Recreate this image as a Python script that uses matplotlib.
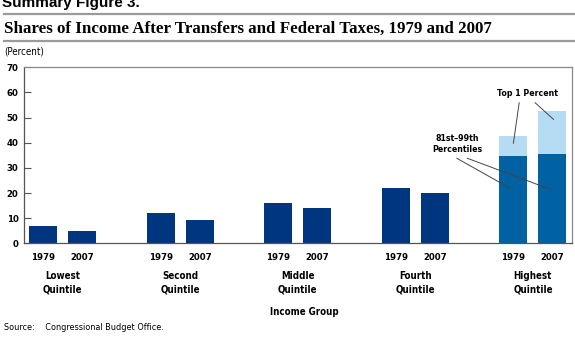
import matplotlib
matplotlib.use("Agg")
import matplotlib.pyplot as plt
from matplotlib.transforms import blended_transform_factory

groups = ["Lowest\nQuintile", "Second\nQuintile", "Middle\nQuintile", "Fourth\nQuintile", "Highest\nQuintile"]
years = ["1979", "2007"]
share_1979 = [7.0, 12.0, 16.0, 22.0, 42.7]
share_2007 = [5.0, 9.2, 14.0, 20.0, 52.6]
p81_99 = [34.7, 35.4]     # 81st-99th percentiles, highest quintile (1979, 2007)
top1 = [8.0, 17.2]        # top 1 percent (1979, 2007)
yticks = [0, 10, 20, 30, 40, 50, 60, 70]

NAVY = "#003580"
MID = "#0062a3"
LIGHT = "#b5dcf2"
GRAY = "#9a9a9a"

plt.rcParams["font.family"] = ["DejaVu Sans"]
plt.rcParams["font.stretch"] = "condensed"

W, H = 575, 338
fig = plt.figure(figsize=(W / 100, H / 100), dpi=100)

def fy(py):
    return 1 - py / H

ax = fig.add_axes([24 / W, fy(243.3), (571.7 - 24) / W, (243.3 - 67.3) / H])

off = 0.166
bw = 0.238
for i in range(4):
    ax.bar(i - off, share_1979[i], bw, color=NAVY)
    ax.bar(i + off, share_2007[i], bw, color=NAVY)
hx = [4 - off, 4 + off]
ax.bar(hx, p81_99, bw, color=MID)
ax.bar(hx, top1, bw, bottom=p81_99, color=LIGHT)

ax.set_xlim(-0.33, 4.33)
ax.set_ylim(0, 70)
ax.set_yticks(yticks)
ax.set_yticklabels([str(v) for v in yticks], fontsize=6.8, fontweight="bold", stretch="condensed")
ax.tick_params(axis="y", direction="in", length=5, width=0.8, color="#555555", pad=4)
xt = []
xl = []
for i in range(5):
    xt += [i - off, i + off]
    xl += years
ax.set_xticks(xt)
ax.set_xticklabels(xl, fontsize=6.8, fontweight="bold", stretch="condensed")
ax.tick_params(axis="x", length=0, pad=7)
for s in ax.spines.values():
    s.set_color("#555555")
    s.set_linewidth(0.9)
ax.spines["top"].set_color("#888888")
ax.spines["right"].set_color("#888888")

tr = blended_transform_factory(ax.transData, fig.transFigure)
for i, g in enumerate(groups):
    ax.text(i, fy(283), g, transform=tr, ha="center", va="center",
            fontsize=7, fontweight="bold", stretch="condensed", linespacing=1.45)
fig.text((24 + 571.7) / 2 / W + 0.012, fy(312), "Income Group", ha="center", va="center",
         fontsize=7, fontweight="bold", stretch="condensed")
fig.text(4 / W, fy(328), "Source:    Congressional Budget Office.", ha="left", va="center",
         fontsize=6.5, stretch="condensed")

# annotations
ax.text(3.951, 59.4, "Top 1 Percent", ha="center", va="center", fontsize=6.3,
        fontweight="bold", stretch="condensed")
ax.plot([3.883, 3.834], [55.9, 39.8], color="#444444", lw=0.7)
ax.plot([4.019, 4.175], [55.9, 49.3], color="#444444", lw=0.7)
ax.text(3.353, 39.5, "81st\u201399th\nPercentiles", ha="center", va="center", fontsize=6.3,
        fontweight="bold", stretch="condensed", linespacing=1.35)
ax.plot([3.353, 3.806], [33.8, 21.9], color="#444444", lw=0.7)
ax.plot([3.443, 4.147], [33.8, 21.5], color="#444444", lw=0.7)

# header
fig.text(2 / W, fy(7), "Summary Figure 3.", ha="left", va="baseline", fontsize=11,
         fontweight="bold", family=["Liberation Sans", "DejaVu Sans"], stretch="normal")
fig.add_artist(plt.Line2D([4 / W, 1], [fy(13.7), fy(13.7)], color=GRAY, lw=1.6,
                          transform=fig.transFigure))
fig.add_artist(plt.Line2D([4 / W, 1], [fy(41), fy(41)], color=GRAY, lw=1.6,
                          transform=fig.transFigure))
fig.text(4 / W, fy(28.5), "Shares of Income After Transfers and Federal Taxes, 1979 and 2007",
         ha="left", va="center", fontsize=12.2, fontweight="bold",
         family=["Liberation Serif", "DejaVu Serif"], stretch="normal")
fig.text(4 / W, fy(51), "(Percent)", ha="left", va="center", fontsize=7, stretch="condensed")

fig.savefig("out.png", dpi=100)
